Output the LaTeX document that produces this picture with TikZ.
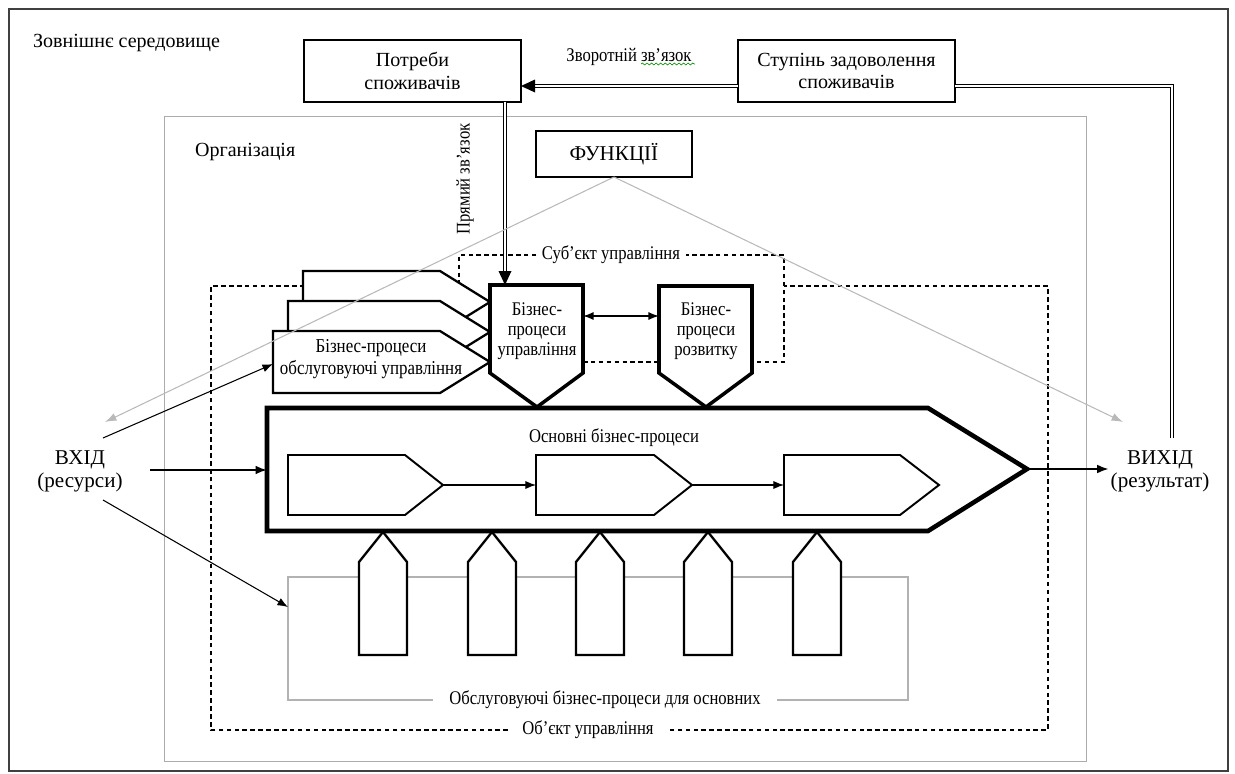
\documentclass[tikz,border=0pt]{standalone}
\usepackage{fontspec}
\setmainfont{Liberation Serif}
\newfontfamily\cf[FakeStretch=0.86]{Liberation Serif}
\usetikzlibrary{arrows.meta,calc,decorations.pathmorphing}
\begin{document}
\begin{tikzpicture}[x=0.02cm,y=-0.02cm,
  nt/.style={inner sep=1pt, font=\fontsize{11.4}{13}\selectfont, align=center},
  bt/.style={inner sep=1pt, font=\fontsize{12}{13}\selectfont, align=center},
  ct/.style={inner sep=1pt, font=\cf\fontsize{11}{11.4}\selectfont, align=center},
  box/.style={draw, line width=0.7pt, fill=white, align=center, inner sep=1pt},
  ar/.style={-{Latex[length=6pt,width=4.6pt]}, line width=0.6pt},
  arb/.style={-{Latex[length=6.5pt,width=5pt]}, line width=1.1pt},
  garr/.style={-{Latex[length=6.5pt,width=4.6pt]}, line width=0.6pt, gray!55},
  dbl/.style={double, double distance=1.3pt, line width=0.55pt},
  dsh/.style={line width=0.6pt, dash pattern=on 2.6pt off 1.9pt},
  pent/.style={line width=1.3pt, fill=white, line join=miter},
  mg/.style={line width=2pt, fill=white, line join=miter},
]
\useasboundingbox (0,0) rectangle (1235,774);
% outer frame and organisation frame
\draw[line width=0.9pt, black!75] (9,9) rectangle (1228,771);
\draw[line width=0.5pt, gray!65] (164,116) rectangle (1086,761);
\node[nt, anchor=west] (env) at (31,43) {Зовнішнє середовище};
\node[nt, anchor=west] (org) at (193,152) {Організація};

% object of management (dashed)
\node[ct, inner xsep=8pt] (obj) at (588,730) {Об’єкт управління};
\draw[dsh] (obj.west) -| (211,286) -| (1048,730) -- (obj.east);
% service processes frame (gray)
\node[ct, inner xsep=9pt] (obsl) at (605,700) {Обслуговуючі бізнес-процеси для основних};
\draw[line width=0.6pt, gray!60] (obsl.west) -| (288,577) -| (908,700) -- (obsl.east);
% subject of management (dashed, white)
\fill[white] (459,255) rectangle (784,362);
\node[ct, inner xsep=3pt] (subj) at (611,255) {Суб’єкт управління};
\draw[dsh] (subj.west) -| (459,362) -| (784,255) -- (subj.east);

% stacked service-management pentagons
\draw[pent] (303,271) -- (440,271) -- (490,302) -- (440,333) -- (303,333) -- cycle;
\draw[pent] (288,301) -- (440,301) -- (490,332) -- (440,363) -- (288,363) -- cycle;
\draw[pent] (273,331) -- (440,331) -- (490,362) -- (440,393) -- (273,393) -- cycle;
\coordinate (frontL) at (273,364);
\node[ct, font=\cf\fontsize{11.2}{12.6}\selectfont] (front) at (371,359) {Бізнес-процеси\\обслуговуючі управління};

% management and development processes
\draw[mg] (490,285) -- (583,285) -- (583,373) -- (537,407) -- (490,373) -- cycle;
\draw[mg] (659,286) -- (752,286) -- (752,373) -- (706,407) -- (659,373) -- cycle;
\node[ct] (mgmt) at (537,331) {Бізнес-\\процеси\\управління};
\node[ct] (devt) at (706,331) {Бізнес-\\процеси\\розвитку};
\coordinate (mgR) at (583,316);
\coordinate (dvL) at (659,316);
\coordinate (mgT) at (505,285);
\draw[{Latex[length=6pt,width=4.6pt]}-{Latex[length=6pt,width=4.6pt]}, line width=0.9pt] (mgR) -- (dvL);

% main business processes arrow
\draw[line width=2.6pt, fill=white, line join=miter] (267,408) -- (928,408) -- (1027,469) -- (928,531) -- (267,531) -- cycle;
\coordinate (mainL) at (267,470);
\coordinate (mainTip) at (1029,469);
\node[ct] (main) at (614,438) {Основні бізнес-процеси};
\draw[line width=1.1pt, line join=miter] (288,455) -- (405,455) -- (443,485) -- (405,515) -- (288,515) -- cycle;
\draw[line width=1.1pt, line join=miter] (536,455) -- (654,455) -- (692,485) -- (654,515) -- (536,515) -- cycle;
\draw[line width=1.1pt, line join=miter] (784,455) -- (900,455) -- (939,485) -- (900,515) -- (784,515) -- cycle;
\coordinate (p1) at (443,485); \coordinate (p2L) at (536,485);
\coordinate (p2) at (692,485); \coordinate (p3L) at (784,485);
\draw[ar] (p1) -- (p2L);
\draw[ar] (p2) -- (p3L);

% supporting pentagons (pointing up)
\foreach \cx in {383,492,600,708,817}{
  \draw[pent] (\cx,532) -- (\cx+24,562) -- (\cx+24,655) -- (\cx-24,655) -- (\cx-24,562) -- cycle;
}

% top boxes
\node[box, nt, draw, minimum width=4.34cm, minimum height=1.24cm] (potr) at (412.5,71) {Потреби\\споживачів};
\node[box, nt, draw, minimum width=4.34cm, minimum height=1.24cm] (stup) at (846.5,71) {Ступінь задоволення\\споживачів};
\node[box, bt, draw, minimum width=3.12cm, minimum height=0.92cm] (func) at (614,154) {ФУНКЦІЇ};

% input / output
\node[bt] (vhid) at (80,471) {ВХІД\\(ресурси)};
\node[bt] (vyhid) at (1160,471) {ВИХІД\\(результат)};
\coordinate (vhA) at (103,438);
\coordinate (vhB) at (150,470);
\coordinate (vhC) at (103,500);
\coordinate (obslL) at (288,607);
\draw[arb] (vhB) -- (mainL);
\draw[ar] (vhA) -- (frontL);
\draw[ar] (vhC) -- (obslL);
\draw[arb] (mainTip) -- (vyhid.west |- mainTip);

% feedback (double lines)
\coordinate (fbStart) at (1172,438);
\coordinate (stR) at (955,86);
\coordinate (stL) at (738,86);
\coordinate (poR) at (521,86);
\coordinate (poB) at (505,102);
\draw[dbl, line join=miter] (fbStart) |- (stR);
\draw[dbl] (stL) -- ($(poR)+(13,0)$);
\fill (poR) -- ++(14,-6.5) -- ++(0,13) -- cycle;
\node[ct] (fb) at (629,57) {Зворотній зв’язок};
\draw[green!55!black, line width=0.35pt, decorate, decoration={snake, amplitude=0.55pt, segment length=2.6pt}] (641,64) -- (695,64);
% direct link
\draw[dbl] (poB) -- ($(mgT)+(0,-13)$);
\fill (mgT) -- ++(-6.5,-14) -- ++(13,0) -- cycle;
\node[ct, rotate=90] (dir) at (465,179) {Прямий зв’язок};

% functions (gray)
\coordinate (fuB) at (614,177);
\coordinate (gIn) at (105,422);
\coordinate (gOut) at (1123,422);
\draw[garr] (fuB) -- (gIn);
\draw[garr] (fuB) -- (gOut);
\end{tikzpicture}
\end{document}
